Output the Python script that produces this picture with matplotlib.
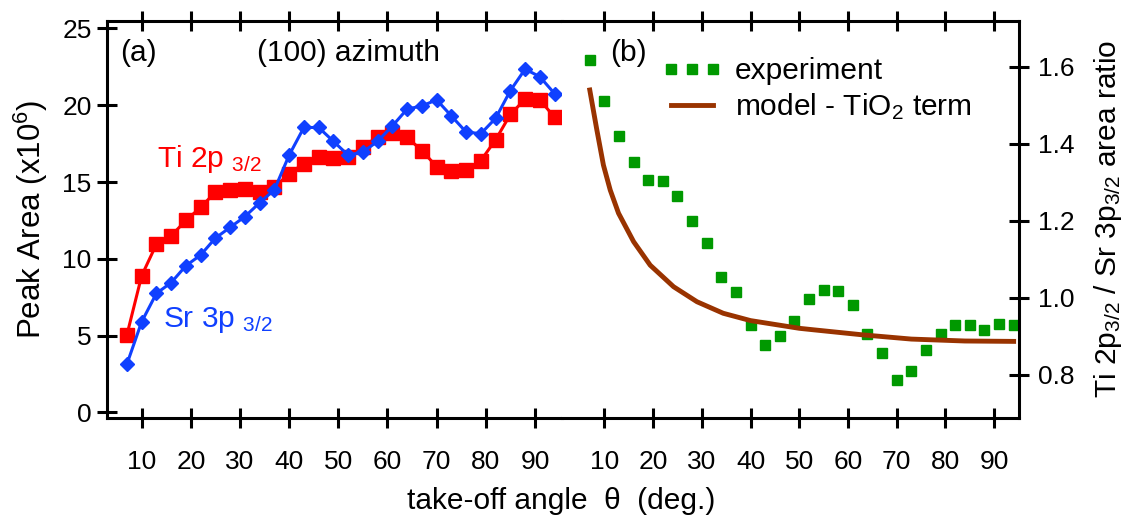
import matplotlib.pyplot as plt
import numpy as np

plt.rcParams["font.family"] = ["Liberation Sans", "DejaVu Sans"]
plt.rcParams["mathtext.fontset"] = "custom"
plt.rcParams["mathtext.rm"] = "Liberation Sans"
plt.rcParams["mathtext.it"] = "Liberation Sans:italic"

# take-off angles (deg.)
angle = np.arange(7, 95, 3)

# panel (a): peak areas (x10^6)
ti_area = [5.05, 8.9, 10.95, 11.5, 12.5, 13.35, 14.35, 14.5, 14.55, 14.35,
           14.65, 15.55, 16.2, 16.65, 16.55, 16.6, 17.3, 17.95, 18.2, 17.9,
           17.05, 16.0, 15.7, 15.75, 16.4, 17.75, 19.4, 20.4, 20.35, 19.2]
sr_area = [3.15, 5.9, 7.75, 8.45, 9.55, 10.25, 11.35, 12.05, 12.75, 13.65,
           14.5, 16.75, 18.55, 18.55, 17.65, 16.75, 16.95, 17.65, 18.65, 19.75,
           19.95, 20.35, 19.3, 18.25, 18.15, 19.15, 20.95, 22.35, 21.85, 20.75]

# panel (b): area ratio
ratio_exp = [1.617, 1.511, 1.420, 1.352, 1.306, 1.303, 1.265, 1.199, 1.142, 1.053,
             1.015, 0.930, 0.878, 0.901, 0.940, 0.997, 1.020, 1.018, 0.982, 0.906,
             0.856, 0.787, 0.810, 0.865, 0.906, 0.930, 0.930, 0.917, 0.932, 0.930]
model_x = [7, 8.4, 9.8, 11.2, 12.9, 16, 19.4, 24.2, 29, 34.4, 40, 46, 50, 53,
           63, 73, 84, 94]
model_y = [1.54, 1.44, 1.345, 1.28, 1.22, 1.146, 1.085, 1.029, 0.99, 0.96,
           0.941, 0.929, 0.921, 0.917, 0.904, 0.893, 0.888, 0.887]

RED = "#ff0000"
BLUE = "#1040ff"
GREEN = "#009900"
BROWN = "#993300"
FS = 21.5
TICK_FS = 19

fig = plt.figure(figsize=(11.28, 5.19), dpi=100)
W, H = 1128, 519
bot, top = 1 - 418 / H, 1 - 20.7 / H
ax1 = fig.add_axes([107 / W, bot, (562 - 107) / W, top - bot])
ax2 = fig.add_axes([562 / W, bot, (1019 - 562) / W, top - bot])

for ax in (ax1, ax2):
    for s in ax.spines.values():
        s.set_linewidth(2.2)
    ax.tick_params(axis="both", direction="inout", length=14, width=2.2,
                   labelsize=TICK_FS)
    ax.tick_params(axis="x", top=True, pad=16)
    ax.set_xticks(range(10, 100, 10))

ax1.spines["right"].set_visible(False)
ax2.spines["left"].set_visible(False)
ax2.yaxis.tick_right()
ax2.tick_params(axis="y", left=False, right=True, pad=7)
ax1.tick_params(axis="y", pad=4)

ax1.plot(angle, ti_area, color=RED, lw=2.2, marker="s", ms=10, mec=RED, zorder=2)
ax1.plot(angle, sr_area, color=BLUE, lw=2.2, marker="D", ms=7.5, mec=BLUE, zorder=3)
ax1.set_xlim(2.95, 95.5)
ax1.set_ylim(-0.36, 25.5)
ax1.set_yticks(range(0, 30, 5))
ax1.set_ylabel(r"Peak Area (x10$^{\mathregular{6}}$)", fontsize=22.5, labelpad=9)

ax1.text(5.6, 23.4, "(a)", fontsize=FS, va="center", ha="left")
ax1.text(52, 23.4, "(100) azimuth", fontsize=FS, va="center", ha="center")
ax1.text(13.1, 16.0, r"Ti 2p $_{\mathregular{3/2}}$", fontsize=FS, color=RED,
         va="baseline", ha="left")
ax1.text(14.4, 5.57, r"Sr 3p $_{\mathregular{3/2}}$", fontsize=FS, color=BLUE,
         va="baseline", ha="left")

ax2.plot(angle, ratio_exp, ls="none", marker="s", ms=7, color=GREEN,
         label="experiment")
ax2.plot(model_x, model_y, color=BROWN, lw=3.5, label=r"model - TiO$_{\mathregular{2}}$ term")
ax2.set_xlim(1.3, 95.1)
ax2.set_ylim(0.688, 1.72)
ax2.set_yticks([0.8, 1.0, 1.2, 1.4, 1.6])
ax2.set_yticklabels(["0.8", "1.0", "1.2", "1.4", "1.6"])
ax2.yaxis.set_label_position("right")
ax2.set_ylabel(r"Ti 2p$_{\mathregular{3/2}}$ / Sr 3p$_{\mathregular{3/2}}$ area ratio",
               fontsize=FS, labelpad=12)
ax2.text(11.2, 1.635, "(b)", fontsize=FS, va="center", ha="left")
ax2.legend(loc="upper left", bbox_to_anchor=(662 / W, 1 - 57 / H),
           bbox_transform=fig.transFigure, frameon=False, fontsize=FS,
           numpoints=3, handlelength=2.0, handletextpad=0.45,
           borderpad=0, borderaxespad=0, labelspacing=0.2)

fig.text(561 / W, 1 - 501 / H, "take-off angle  θ  (deg.)", fontsize=FS,
         ha="center", va="center")

fig.savefig("out.png", dpi=100)
